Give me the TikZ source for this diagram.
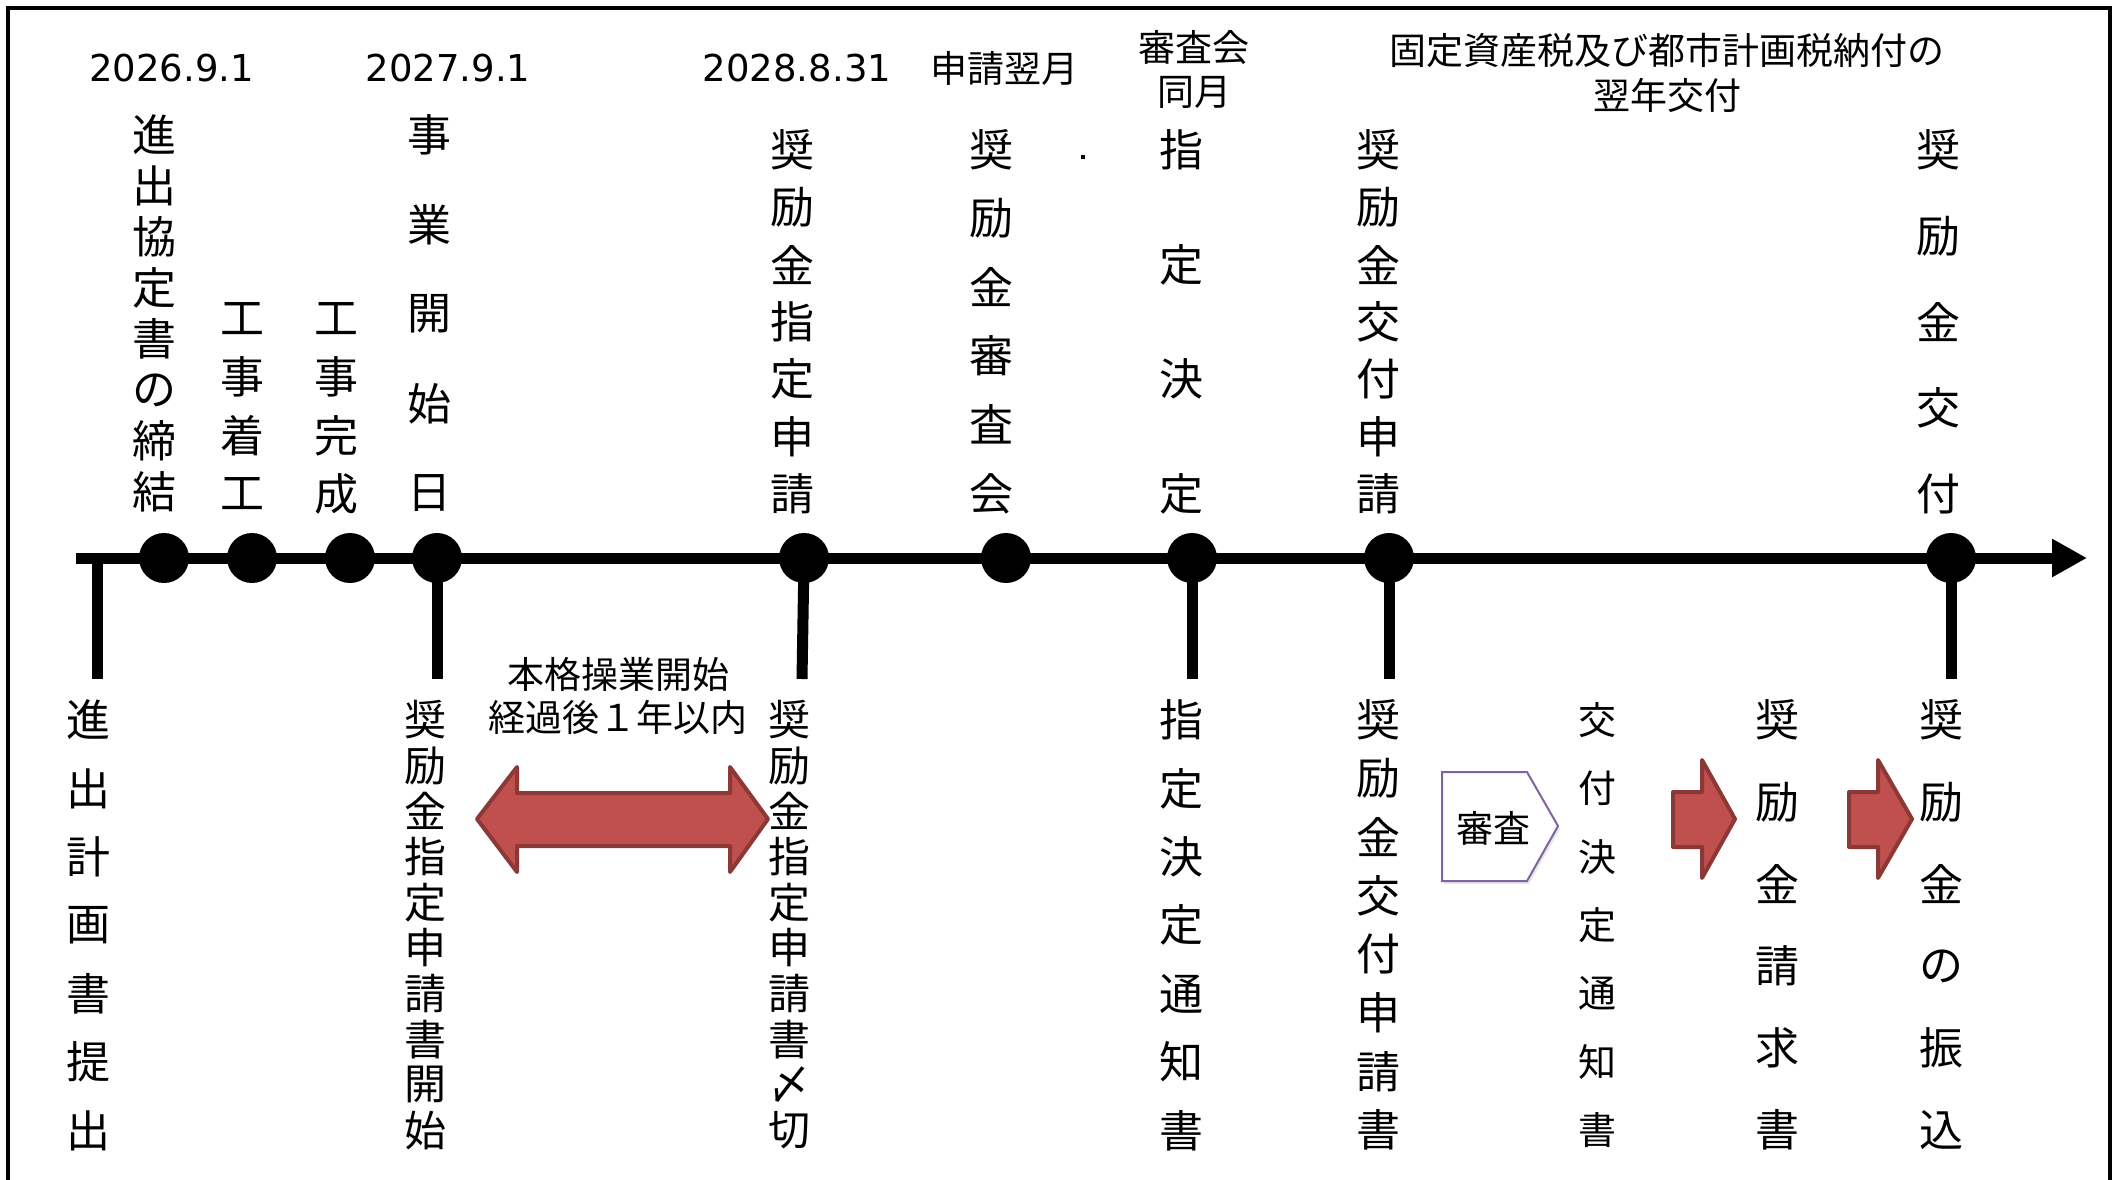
\documentclass[tikz,border=0pt]{standalone}
\usepackage{fontspec}
\setmainfont{DejaVu Sans}
\newfontfamily\jp{Noto Sans CJK JP}
\usetikzlibrary{arrows.meta,shadows}
\definecolor{arrowred}{HTML}{C0504D}
\definecolor{arrowedge}{HTML}{8C3836}
\definecolor{boxpurple}{HTML}{8064A2}
\newcommand\vcolumn[6]{%
  \foreach \c [count=\i from 0] in {#6} {
    \node[vch, font=\jp\fontsize{#5}{#5}\selectfont] (#1-\i) at (#2, {#3+\i*#4}) {\c};
  }}
\tikzset{
  vch/.style={inner sep=0pt, anchor=center},
  dotnode/.style={circle, fill=black, minimum size=50pt, inner sep=0pt},
  tline/.style={line width=11pt},
  datelbl/.style={font=\fontsize{37}{44}\selectfont, inner sep=0pt},
  jplbl/.style={font=\jp\fontsize{37}{44}\selectfont, align=center, inner sep=0pt},
  redarrow/.style={fill=arrowred, draw=arrowedge, line width=4pt, line join=round},
  framebox/.style={line width=4pt},
}
\begin{document}
\begin{tikzpicture}[x=1pt,y=-1pt]
\useasboundingbox (0,0) rectangle (2122,1180);
% frame
\draw[framebox] (8,1180) -- (8,8) -- (2110,8) -- (2110,1180);

% timeline
\coordinate (tstart) at (76,558);
\coordinate (tend) at (2087,558);
\draw[tline, -{Triangle[length=35pt,width=36pt]}] (tstart) -- (tend);

% dots
\node[dotnode] (d1) at (164,558) {};
\node[dotnode] (d2) at (252,558) {};
\node[dotnode] (d3) at (350,558) {};
\node[dotnode] (d4) at (437,558) {};
\node[dotnode] (d5) at (804,558) {};
\node[dotnode] (d6) at (1006,558) {};
\node[dotnode] (d7) at (1192,558) {};
\node[dotnode] (d8) at (1389,558) {};
\node[dotnode] (d9) at (1951,558) {};

% drops
\coordinate (s0) at (97,553);
\coordinate (e0) at (97,679);
\coordinate (e4) at (437,679);
\coordinate (e5) at (802,679);
\coordinate (e7) at (1192,679);
\coordinate (e8) at (1389,679);
\coordinate (e9) at (1951,679);
\draw[tline] (s0) -- (e0);
\draw[tline] (d4.center) -- (e4);
\draw[tline] (d5.center) -- (e5);
\draw[tline] (d7.center) -- (e7);
\draw[tline] (d8.center) -- (e8);
\draw[tline] (d9.center) -- (e9);

% top labels
\node[datelbl] (t1) at (171.5,68) {2026.9.1};
\node[datelbl] (t2) at (448,68) {2027.9.1};
\node[datelbl] (t3) at (797,68) {2028.8.31};
\node[jplbl] (t4) at (1004,68) {申請翌月};
\node[jplbl] (t5) at (1194,69) {審査会\\同月};
\node[jplbl, font=\jp\fontsize{37}{45}\selectfont] (t6) at (1667,72.5) {固定資産税及び都市計画税納付の\\翌年交付};

% stray dot
\fill (1081,155) rectangle (1085,159);

% upper vertical labels
\vcolumn{u1}{154}{135}{51}{44}{進,出,協,定,書,の,締,結}
\vcolumn{u2}{242}{319}{58.2}{44}{工,事,着,工}
\vcolumn{u3}{336}{319}{58.2}{44}{工,事,完,成}
\vcolumn{u4}{429}{135}{89.5}{44}{事,業,開,始,日}
\vcolumn{u5}{792}{150}{57.3}{44}{奨,励,金,指,定,申,請}
\vcolumn{u6}{991}{150}{68.7}{44}{奨,励,金,審,査,会}
\vcolumn{u7}{1181}{150}{114.5}{44}{指,定,決,定}
\vcolumn{u8}{1378}{150}{57.3}{44}{奨,励,金,交,付,申,請}
\vcolumn{u9}{1938}{150}{85.9}{44}{奨,励,金,交,付}

% lower vertical labels
\vcolumn{l1}{88}{720}{68.4}{44}{進,出,計,画,書,提,出}
\vcolumn{l2}{425}{720}{45.6}{42}{奨,励,金,指,定,申,請,書,開,始}
\vcolumn{l3}{789}{720}{45.6}{42}{奨,励,金,指,定,申,請,書,〆,切}
\vcolumn{l4}{1181}{720}{68.4}{44}{指,定,決,定,通,知,書}
\vcolumn{l5}{1378}{720}{58.6}{44}{奨,励,金,交,付,申,請,書}
\vcolumn{l6}{1597}{720}{68.4}{38}{交,付,決,定,通,知,書}
\vcolumn{l7}{1777}{720}{82}{44}{奨,励,金,請,求,書}
\vcolumn{l8}{1941}{720}{82}{44}{奨,励,金,の,振,込}

% middle label
\node[jplbl, font=\jp\fontsize{37}{43}\selectfont] (mid) at (618,695.5) {本格操業開始\\経過後１年以内};

% double arrow
\draw[redarrow] (477,819) -- (517,767) -- (517,793) -- (730,793) -- (730,767) -- (768,819)
  -- (730,872) -- (730,846) -- (517,846) -- (517,872) -- cycle;

% review pentagon
\draw[draw=boxpurple, line width=2pt, fill=white,
  drop shadow={opacity=0.2, shadow xshift=2pt, shadow yshift=-3pt}]
  (1442,772) -- (1527,772) -- (1558,826) -- (1527,881) -- (1442,881) -- cycle;
\node[jplbl] (review) at (1493,828) {審査};

% right arrows
\draw[redarrow] (1673,792) -- (1702,792) -- (1702,760) -- (1735,819) -- (1702,878) -- (1702,847) -- (1673,847) -- cycle;
\draw[redarrow] (1849,792) -- (1878,792) -- (1878,760) -- (1912,819) -- (1878,878) -- (1878,847) -- (1849,847) -- cycle;
\end{tikzpicture}
\end{document}
